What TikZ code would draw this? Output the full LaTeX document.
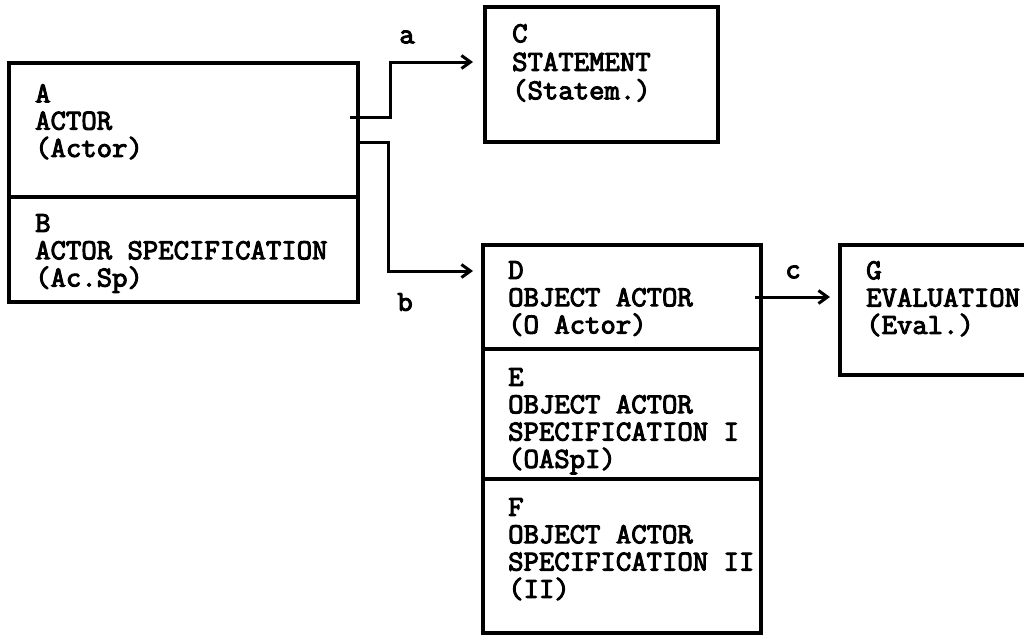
\documentclass[tikz,border=0pt]{standalone}
\usepackage{fontspec}
\newfontfamily\courbold{Latin Modern Mono}[FakeBold=3.5,FakeStretch=1.03]
\usetikzlibrary{arrows.meta}
\begin{document}
\begin{tikzpicture}[x=1pt,y=-1pt,
  box/.style={draw, rectangle, line width=3.2pt, inner sep=0pt, outer sep=0pt, anchor=north west},
  txt/.style={anchor=north west, align=left, inner sep=0pt, font=\courbold\fontsize{29}{27.3}\selectfont},
  lbl/.style={inner sep=0pt, font=\courbold\fontsize{29}{29}\selectfont},
  conn/.style={line width=3pt, -{Straight Barb[length=9pt,width=13pt]}, line join=miter}]
\clip (0,0) rectangle (1024,635);
\fill[white] (0,0) rectangle (1024,635);
% boxes
\node[box, minimum width=349pt, minimum height=134pt] (A) at (9,63) {};
\node[box, minimum width=349pt, minimum height=105pt] (B) at (9,197) {};
\node[box, minimum width=233pt, minimum height=135pt] (C) at (485,7) {};
\node[box, minimum width=278pt, minimum height=104pt] (D) at (483,245) {};
\node[box, minimum width=278pt, minimum height=130pt] (E) at (483,349) {};
\node[box, minimum width=278pt, minimum height=154pt] (F) at (483,479) {};
\node[box, minimum width=220pt, minimum height=130pt] (G) at (840,245) {};
% texts
\node[txt] (At) at (35,84) {A\\ACTOR\\(Actor)};
\node[txt] (Bt) at (35,214) {B\\ACTOR SPECIFICATION\\(Ac.Sp)};
\node[txt, font=\courbold\fontsize{29}{28.5}\selectfont] (Ct) at (512,24) {C\\STATEMENT\\(Statem.)};
\node[txt] (Dt) at (508,261) {D\\OBJECT ACTOR\\(O Actor)};
\node[txt] (Et) at (508,368) {E\\OBJECT ACTOR\\SPECIFICATION I\\(OASpI)};
\node[txt] (Ft) at (508,498) {F\\OBJECT ACTOR\\SPECIFICATION II\\(II)};
\node[txt] (Gt) at (866,261) {G\\EVALUATION\\(Eval.)};
% labels
\node[lbl] (la) at (407,37) {a};
\node[lbl] (lb) at (405,302) {b};
\node[lbl] (lc) at (793,272) {c};
% connectors
\coordinate (as) at ([xshift=-8pt,yshift=13pt]A.east);
\coordinate (bs) at ([yshift=-12pt]A.east);
\coordinate (cs) at ([xshift=-6pt]D.east);
\draw[conn, shorten >=12pt] (as) -- ++(40,0) |- ([yshift=12.5pt]C.west);
\draw[conn, shorten >=10pt] (bs) -- ++(30,0) |- ([yshift=26pt]D.west);
\draw[conn, shorten >=10pt] (cs) -- (cs -| G.west);
\end{tikzpicture}
\end{document}
